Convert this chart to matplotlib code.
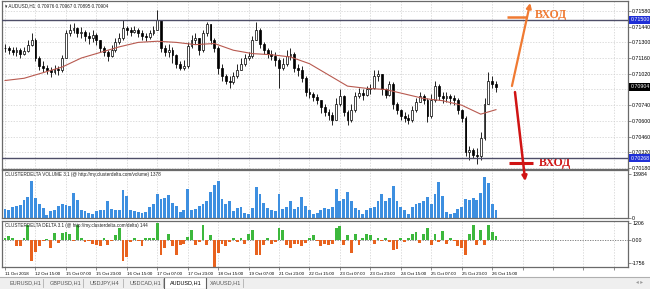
import numpy as np
import matplotlib.pyplot as plt
import matplotlib.transforms as mtransforms
from matplotlib.patches import Rectangle, FancyArrowPatch

plt.rcParams['font.family'] = ['Liberation Sans', 'DejaVu Sans']

# AUDUSD, one value per 2 hours
closes = [
    0.7125, 0.7123, 0.7121, 0.7123, 0.7120, 0.7122, 0.7128, 0.7132, 0.7116, 0.7109,
    0.7107, 0.7105, 0.7104, 0.7106, 0.7105, 0.7116, 0.7138, 0.7141, 0.7143, 0.7138,
    0.7139, 0.7136, 0.7134, 0.7137, 0.7132, 0.7125, 0.7121, 0.7118, 0.7123, 0.7130,
    0.7134, 0.7143, 0.7141, 0.7139, 0.7141, 0.7138, 0.7136, 0.7135, 0.7138, 0.7141,
    0.7150, 0.7125, 0.7121, 0.7123, 0.7119, 0.7111, 0.7107, 0.7109, 0.7127, 0.7132,
    0.7134, 0.7123, 0.7138, 0.7146, 0.7132, 0.7125, 0.7107, 0.7100, 0.7096, 0.7095,
    0.7100, 0.7105, 0.7111, 0.7116, 0.7118, 0.7132, 0.7141, 0.7129, 0.7123, 0.7120,
    0.7118, 0.7114, 0.7107, 0.7111, 0.7118, 0.7120, 0.7107, 0.7105, 0.7098, 0.7086,
    0.7084, 0.7081, 0.7079, 0.7072, 0.7068, 0.7065, 0.7061, 0.7075, 0.7082, 0.7068,
    0.7061, 0.7070, 0.7082, 0.7085, 0.7083, 0.7088, 0.7089, 0.7100, 0.7102, 0.7088,
    0.7083, 0.7093, 0.7075, 0.7070, 0.7064, 0.7063, 0.7061, 0.7070, 0.7077, 0.7082,
    0.7079, 0.7064, 0.7079, 0.7091, 0.7082, 0.7080, 0.7082, 0.7080, 0.7079, 0.7070,
    0.7063, 0.7032, 0.7034, 0.7030, 0.7029, 0.7045, 0.7075, 0.7096, 0.7093, 0.7090,
]
highs = [
    0.7129, 0.7127, 0.7126, 0.7126, 0.7125, 0.7126, 0.7132, 0.7138, 0.7134, 0.7118,
    0.7113, 0.7110, 0.7108, 0.7110, 0.7109, 0.7119, 0.7141, 0.7146, 0.7147, 0.7144,
    0.7144, 0.7141, 0.7139, 0.7141, 0.7138, 0.7132, 0.7127, 0.7123, 0.7128, 0.7134,
    0.7138, 0.7150, 0.7145, 0.7144, 0.7145, 0.7143, 0.7141, 0.7138, 0.7141, 0.7145,
    0.7159, 0.7150, 0.7128, 0.7129, 0.7126, 0.7120, 0.7113, 0.7114, 0.7130, 0.7137,
    0.7138, 0.7134, 0.7141, 0.7148, 0.7146, 0.7134, 0.7127, 0.7111, 0.7102, 0.7100,
    0.7104, 0.7111, 0.7116, 0.7120, 0.7121, 0.7136, 0.7148, 0.7143, 0.7130, 0.7125,
    0.7123, 0.7121, 0.7116, 0.7116, 0.7123, 0.7125, 0.7121, 0.7111, 0.7109, 0.7100,
    0.7089, 0.7086, 0.7084, 0.7079, 0.7075, 0.7071, 0.7068, 0.7080, 0.7088, 0.7083,
    0.7070, 0.7075, 0.7086, 0.7089, 0.7088, 0.7091, 0.7093, 0.7105, 0.7105, 0.7102,
    0.7089, 0.7096, 0.7095, 0.7077, 0.7071, 0.7068, 0.7066, 0.7073, 0.7080, 0.7086,
    0.7084, 0.7080, 0.7084, 0.7096, 0.7093, 0.7086, 0.7086, 0.7084, 0.7083, 0.7080,
    0.7071, 0.7064, 0.7038, 0.7036, 0.7036, 0.7050, 0.7080, 0.7104, 0.7100, 0.7096,
]
lows = [
    0.7121, 0.7120, 0.7119, 0.7118, 0.7116, 0.7119, 0.7121, 0.7127, 0.7113, 0.7105,
    0.7104, 0.7102, 0.7099, 0.7102, 0.7101, 0.7104, 0.7116, 0.7136, 0.7138, 0.7135,
    0.7134, 0.7131, 0.7129, 0.7130, 0.7128, 0.7121, 0.7118, 0.7113, 0.7117, 0.7121,
    0.7129, 0.7132, 0.7137, 0.7136, 0.7138, 0.7135, 0.7132, 0.7131, 0.7133, 0.7137,
    0.7141, 0.7121, 0.7118, 0.7117, 0.7112, 0.7107, 0.7105, 0.7105, 0.7107, 0.7125,
    0.7129, 0.7119, 0.7121, 0.7136, 0.7129, 0.7121, 0.7102, 0.7096, 0.7093, 0.7089,
    0.7093, 0.7098, 0.7105, 0.7109, 0.7114, 0.7116, 0.7132, 0.7125, 0.7120, 0.7116,
    0.7114, 0.7109, 0.7089, 0.7105, 0.7109, 0.7114, 0.7104, 0.7100, 0.7095, 0.7082,
    0.7080, 0.7078, 0.7075, 0.7067, 0.7064, 0.7061, 0.7056, 0.7061, 0.7073, 0.7064,
    0.7056, 0.7059, 0.7068, 0.7080, 0.7079, 0.7082, 0.7084, 0.7088, 0.7096, 0.7083,
    0.7080, 0.7082, 0.7071, 0.7066, 0.7061, 0.7059, 0.7057, 0.7059, 0.7068, 0.7077,
    0.7075, 0.7059, 0.7063, 0.7077, 0.7079, 0.7076, 0.7077, 0.7075, 0.7074, 0.7066,
    0.7059, 0.7029, 0.7025, 0.7027, 0.7022, 0.7025, 0.7043, 0.7075, 0.7089, 0.7086,
]
# moving average, sampled every 5 bars (+ last bar)
ma_values = [0.7096, 0.7098, 0.7103, 0.7108, 0.7116, 0.7121, 0.7126, 0.7130, 0.7131,
             0.7130, 0.7128, 0.7129, 0.7123, 0.7120, 0.7119, 0.7117, 0.7111, 0.7101,
             0.7091, 0.7089, 0.7088, 0.7084, 0.7080, 0.7078, 0.7074, 0.7066, 0.7070]
volume = [
    3000, 2700, 3450, 3800, 4100, 5600, 6700, 11650, 6250, 4300,
    3250, 1100, 2150, 2400, 3800, 4550, 4100, 3800, 7800, 5600,
    2700, 2150, 1600, 1300, 2150, 2700, 2700, 5400, 3000, 2700,
    2400, 9050, 7000, 2400, 2150, 1950, 1600, 1950, 3450, 4300,
    7550, 5950, 6500, 7350, 4850, 3800, 1950, 2400, 9200, 2700,
    3000, 3800, 4550, 5400, 8400, 10600, 11900, 5950, 4550, 5400,
    2150, 3250, 3450, 1600, 1300, 3250, 9950, 7550, 4850, 3250,
    2400, 2150, 7550, 3000, 3450, 5400, 3000, 3450, 6700, 3800,
    2400, 1300, 1600, 2700, 3250, 3000, 3450, 9200, 5400, 5950,
    8400, 5400, 3250, 2400, 1300, 2700, 3250, 3450, 5400, 7550,
    5400, 6250, 10250, 5400, 3450, 2700, 1300, 3450, 4300, 4850,
    5400, 6700, 4300, 7550, 11350, 7000, 1950, 1300, 1600, 3000,
    3450, 5950, 5600, 6250, 5600, 8100, 12950, 11000, 4550, 2400,
]
delta = [
    150, 250, 150, -450, -500, 100, 1100, -1600, -900, -500,
    -100, 80, -600, 500, -250, 500, 550, 450, -100, 1100,
    100, -200, -100, -350, -400, -500, 100, -400, -100, 370,
    860, -1600, -1300, -150, 100, -100, -500, 100, 120, 150,
    1230, -1100, -650, 450, -500, -1100, -400, -300, 200, 740,
    -400, -150, 1100, -400, 350, -2000, -1000, -350, -500, -150,
    100, -150, 150, -300, 400, 740, -1100, -1100, -400, 100,
    -350, -200, 860, 750, -400, -600, -300, -350, -450, -250,
    150, 350, -100, -450, -350, -400, -300, 860, 1000, -400,
    350, -1000, 450, -400, 150, 450, 350, -350, 150, -100,
    100, -200, -750, -700, 100, -150, 100, 450, 550, -250,
    400, 860, -400, 450, -150, 650, -350, 150, -100, -450,
    -600, -1100, 400, 1060, -400, 700, -400, 1060, 600, 250,
]
date_labels = ["11 Oct 2018", "12 Oct 15:00", "15 Oct 07:00", "15 Oct 23:00", "16 Oct 15:00",
               "17 Oct 07:00", "17 Oct 23:00", "18 Oct 15:00", "19 Oct 07:00", "21 Oct 23:00",
               "22 Oct 15:00", "23 Oct 07:00", "23 Oct 23:00", "24 Oct 15:00", "25 Oct 07:00",
               "25 Oct 23:00", "26 Oct 15:00"]
price_ticks = [0.71580, 0.71440, 0.71300, 0.71160, 0.71020, 0.70880, 0.70740,
               0.70600, 0.70460, 0.70320, 0.70180]
level_high = 0.71500
level_low = 0.70268
last_price = 0.70904
vol_ticks = [0, 13984]
delta_ticks = [-1756, 0, 1206]
tabs = ["EURUSD,H1", "GBPUSD,H1", "USDJPY,H4", "USDCAD,H1", "AUDUSD,H1", "XAUUSD,H1"]
active_tab = 4

n = len(closes)
x = np.arange(n)
c = np.array(closes)
o = np.r_[c[0], c[:-1]]
h = np.array(highs)
l = np.array(lows)

W, H = 650, 289
fig = plt.figure(figsize=(W / 100, H / 100), dpi=100)
fig.patch.set_facecolor('white')


def panel(top, bottom):
    return fig.add_axes([2 / W, 1 - bottom / H, 626 / W, (bottom - top) / H])


ax = panel(1, 169)
axv = panel(170, 218)
axd = panel(221, 267)

grid_kw = dict(color='#cfcfcf', lw=0.5, ls=(0, (2, 2)), zorder=0)
tick_pos = np.arange(0, 164, 8)
for a in (ax, axv, axd):
    a.set_xlim(-0.8, 163.7)
    a.set_xticks(tick_pos)
    a.yaxis.tick_right()
    a.tick_params(axis='both', length=2, width=0.5, pad=1, labelsize=3.8, color='#606060')
    for s in a.spines.values():
        s.set_color('#6a6a6a')
        s.set_linewidth(0.9)
    for t in tick_pos:
        a.axvline(t, **grid_kw)
for a in (ax, axv):
    a.set_xticklabels([])
    a.tick_params(axis='x', length=0)
axd.set_xticklabels(date_labels + [''] * (len(tick_pos) - len(date_labels)), ha='left')
axd.tick_params(axis='x', labelsize=3.2, pad=1.5)

# --- price panel
ax.set_ylim(0.70171, 0.71669)
ax.set_yticks(price_ticks)
# the tick hidden behind the current-price box gets no label
ax.set_yticklabels(['' if abs(p - last_price) < 0.0005 else f'{p:.5f}' for p in price_ticks])
for p in price_ticks:
    ax.axhline(p, **grid_kw)

up = c >= o
body_bottom = np.minimum(o, c)
body_h = np.maximum(np.abs(c - o), 0.00002)
ax.vlines(x, l, h, color='black', lw=0.6, zorder=2)
ax.bar(x[up], body_h[up], 0.5, bottom=body_bottom[up], color='white',
       edgecolor='black', lw=0.5, zorder=3)
ax.bar(x[~up], body_h[~up], 0.5, bottom=body_bottom[~up], color='black',
       edgecolor='black', lw=0.5, zorder=3)

ma_x = np.r_[np.arange(0, n, 5), n - 1]
ax.plot(ma_x, ma_values, color='#b85a50', lw=0.8, zorder=4)

ax.axhline(level_high, color='#4e4e68', lw=1.0, zorder=5)
ax.axhline(level_low, color='#4e4e68', lw=1.0, zorder=5)

trans = mtransforms.blended_transform_factory(ax.transAxes, ax.transData)
for val, fc in [(level_high, '#1f2fd6'), (level_low, '#1f2fd6'), (last_price, '#000000')]:
    ax.text(1.004, val, f'{val:.5f}', transform=trans, fontsize=3.8, color='white',
            va='center', ha='left', clip_on=False, zorder=10,
            bbox=dict(boxstyle='square,pad=0.25', fc=fc, ec='none'))

ax.text(0.004, 0.985, '\u25be AUDUSD,H1  0.70976 0.70967 0.70895 0.70904',
        transform=ax.transAxes, fontsize=3.3, va='top', ha='left', color='#202020')

# entry arrows (figure-level so the down arrow may cross into the volume panel)
orange = '#f07a32'
red = '#d01414'
fig.add_artist(FancyArrowPatch((133.2, 0.70911), (138.0, 0.71651), transform=ax.transData,
                               arrowstyle='-|>', mutation_scale=7, color=orange, lw=1.6,
                               shrinkA=0, shrinkB=0, zorder=5))
ax.plot([131.9, 137.2], [0.71526, 0.71526], color=orange, lw=1.8, solid_capstyle='butt')
ax.text(139.3, 0.71544, 'ВХОД', color=orange, fontsize=8.5, fontweight='bold',
        family=['Liberation Serif', 'DejaVu Serif'], va='center', ha='left')
fig.add_artist(FancyArrowPatch((134.0, 0.70857), (136.7, 0.70063), transform=ax.transData,
                               arrowstyle='-|>', mutation_scale=7, color=red, lw=1.8,
                               shrinkA=0, shrinkB=0, zorder=5))
ax.plot([132.5, 138.8], [0.70224, 0.70224], color=red, lw=2.2, solid_capstyle='butt',
        clip_on=False)
ax.text(140.3, 0.70224, 'ВХОД', color=red, fontsize=8.5, fontweight='bold',
        family=['Liberation Serif', 'DejaVu Serif'], va='center', ha='left', clip_on=False)

# --- volume panel
axv.bar(x, volume, 0.75, color='#3d8fe0', zorder=2)
axv.set_ylim(0, 15250)
axv.set_yticks(vol_ticks)
axv.set_yticklabels([str(v) for v in vol_ticks])
axv.text(0.004, 0.96, 'CLUSTERDELTA VOLUME 3.1 (@ http://my.clusterdelta.com/volume) 1378',
         transform=axv.transAxes, fontsize=3.3, va='top', ha='left', color='#202020')

# --- delta panel
d = np.array(delta)
axd.bar(x, d, 0.75, color=np.where(d > 0, '#3cb83c', '#e8621e'), zorder=2)
axd.axhline(0, color='#707070', lw=0.6, ls=(0, (1.5, 1.5)), zorder=1)
axd.set_ylim(-2020, 1384)
axd.set_yticks(delta_ticks)
axd.set_yticklabels(['-1756', '0.00', '1206'])
axd.text(0.004, 0.96, 'CLUSTERDELTA DELTA 3.1 (@ http://my.clusterdelta.com/delta) 144',
         transform=axd.transAxes, fontsize=3.3, va='top', ha='left', color='#202020')

# --- tab bar
tb = fig.add_axes([0, 0, 1, 12 / H])
tb.set_xlim(0, W)
tb.set_ylim(0, 12)
tb.set_facecolor('#efefef')
tb.set_xticks([])
tb.set_yticks([])
for k, s in tb.spines.items():
    s.set_visible(k == 'top')
    s.set_color('#b0b0b0')
for k, name in enumerate(tabs):
    tx = 10 + 40 * k
    if k == active_tab:
        tb.add_patch(Rectangle((tx - 6, 0), 42, 12, fc='white', ec='#606060', lw=0.8))
    else:
        tb.plot([tx + 33, tx + 33], [2, 10], color='#b0b0b0', lw=0.6)
    tb.text(tx, 6, name, fontsize=4, va='center', ha='left',
            color='#000000' if k == active_tab else '#555555')
tb.text(640, 6, '\u25c2 \u25b8', fontsize=4, va='center', ha='center', color='#999999')

fig.savefig('out.png', dpi=100)
